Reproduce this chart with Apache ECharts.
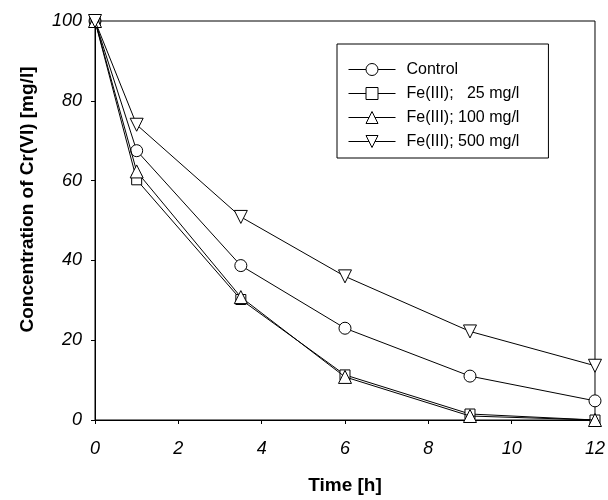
<!DOCTYPE html>
<html>
<head>
<meta charset="utf-8">
<script src="https://cdn.jsdelivr.net/npm/echarts@6/dist/echarts.min.js"></script>
<style>
html,body{margin:0;padding:0;background:#fff;}
#chart{width:608px;height:500px;}
</style>
</head>
<body>
<div id="chart"></div>
<script>
const times = [0, 1, 3.5, 6, 9, 12];
const seriesNames = ['Control', 'Fe(III);   25 mg/l', 'Fe(III); 100 mg/l', 'Fe(III); 500 mg/l'];
const control = [100, 67.5, 38.7, 23, 11, 4.8];
const fe25 = [100, 60.2, 30.2, 11.3, 1.5, 0];
const fe100 = [100, 62.3, 30.8, 10.8, 1.0, 0];
const fe500 = [100, 74, 50.9, 36, 22.2, 13.6];
const xTicks = [0, 2, 4, 6, 8, 10, 12];
const yTicks = [0, 20, 40, 60, 80, 100];

const FONT = '"Liberation Sans", Arial, sans-serif';
const symbols = [
  {symbol: 'circle', size: 12, rotate: 0},
  {symbol: 'rect', size: 10, rotate: 0},
  {symbol: 'triangle', size: 13, rotate: 0},
  {symbol: 'triangle', size: 13, rotate: 180}
];
const values = [control, fe25, fe100, fe500];

const chart = echarts.init(document.getElementById('chart'), null, {renderer: 'canvas'});
chart.setOption({
  animation: false,
  backgroundColor: '#fff',
  grid: {left: 95, right: 12, top: 21, bottom: 79, show: true, borderColor: '#000', borderWidth: 1, backgroundColor: 'transparent'},
  legend: {
    left: 337, top: 44,
    orient: 'vertical',
    data: seriesNames,
    itemWidth: 47, itemHeight: 15, itemGap: 7,
    padding: [17, 29, 8, 11],
    backgroundColor: '#fff',
    borderColor: '#000', borderWidth: 1,
    lineStyle: {width: 1, color: '#000'},
    itemStyle: {borderWidth: 1, borderColor: '#000', color: '#fff'},
    textStyle: {fontFamily: FONT, fontSize: 16, color: '#000', lineHeight: 17, padding: [0, 0, 0, 6]}
  },
  xAxis: {
    type: 'value', min: xTicks[0], max: xTicks[xTicks.length - 1], interval: 2,
    name: 'Time [h]', nameLocation: 'middle', nameGap: 56,
    nameTextStyle: {fontFamily: FONT, fontSize: 19, fontWeight: 'bold', color: '#000'},
    axisLine: {show: true, lineStyle: {color: '#000', width: 1}},
    axisTick: {show: true, inside: false, length: 4, lineStyle: {color: '#000'}},
    axisLabel: {fontFamily: FONT, fontSize: 18, fontStyle: 'italic', color: '#000', margin: 20},
    splitLine: {show: false}
  },
  yAxis: {
    type: 'value', min: yTicks[0], max: yTicks[yTicks.length - 1], interval: 20,
    name: 'Concentration of Cr(VI) [mg/l]', nameLocation: 'middle', nameGap: 58,
    nameTextStyle: {fontFamily: FONT, fontSize: 19, fontWeight: 'bold', color: '#000', padding: [0, 0, 0, 42]},
    axisLine: {show: true, lineStyle: {color: '#000', width: 1}},
    axisTick: {show: true, inside: false, length: 4, lineStyle: {color: '#000'}},
    axisLabel: {fontFamily: FONT, fontSize: 18, fontStyle: 'italic', color: '#000', margin: 13},
    splitLine: {show: false}
  },
  series: values.map((vals, i) => ({
    name: seriesNames[i],
    type: 'line',
    data: times.map((t, j) => [t, vals[j]]),
    symbol: symbols[i].symbol,
    symbolSize: symbols[i].size,
    symbolRotate: symbols[i].rotate,
    showSymbol: true,
    lineStyle: {color: '#000', width: 1},
    itemStyle: {color: '#fff', borderColor: '#000', borderWidth: 1},
    z: 2 + i
  }))
});
</script>
</body>
</html>
